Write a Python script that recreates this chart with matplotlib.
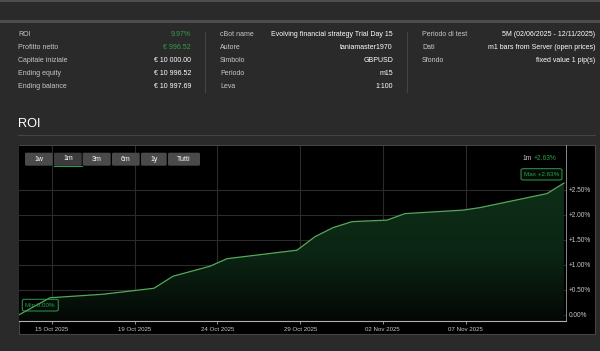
import numpy as np
import matplotlib
matplotlib.use("Agg")
from matplotlib import pyplot as plt
from matplotlib.patches import Rectangle, FancyBboxPatch
from matplotlib.colors import LinearSegmentedColormap

# ROI curve (x = ordinal session position, y = ROI in %)
session = [0.0, 1.5, 4.06, 5.51, 6.53, 7.45, 9.24, 10.06, 13.45, 14.32,
           15.19, 16.11, 17.80, 18.67, 21.48, 22.30, 25.54, 26.36]
roi = [0.00, 0.34, 0.41, 0.48, 0.53, 0.77, 0.97, 1.12, 1.29, 1.56,
       1.74, 1.86, 1.89, 2.02, 2.09, 2.14, 2.42, 2.63]

tick_pos = [1.6, 5.6, 9.6, 13.6, 17.6, 21.6]
tick_labels = ["15 Oct 2025", "19 Oct 2025", "24 Oct 2025",
               "29 Oct 2025", "02 Nov 2025", "07 Nov 2025"]
y_ticks = [0.0, 0.5, 1.0, 1.5, 2.0, 2.5]

# summary table
col1_labels = ["ROI", "Profitto netto", "Capitale iniziale", "Ending equity", "Ending balance"]
col1_values = ["9.97%", "€ 996.52", "€ 10 000.00", "€ 10 996.52", "€ 10 997.69"]
col2_labels = ["cBot name", "Autore", "Simbolo", "Periodo", "Leva"]
col2_values = ["Evolving financial strategy Trial Day 15", "taniamaster1970", "GBPUSD", "m15", "1:100"]
col3_labels = ["Periodo di test", "Dati", "Sfondo"]
col3_values = ["5M (02/06/2025 - 12/11/2025)", "m1 bars from Server (open prices)", "fixed value 1 pip(s)"]

buttons = ["1w", "1m", "3m", "6m", "1y", "Tutti"]

plt.rcParams['font.family'] = ['Liberation Sans', 'DejaVu Sans']

W, H = 600, 351
BG = "#2a2a2a"
LBL = "#c8c8c8"
GREEN = "#2f9e4e"
LINE = "#55a85a"


def fx(px):
    return px / W


def fy(py):
    return 1 - py / H


fig = plt.figure(figsize=(6, 3.51), dpi=100, facecolor=BG)

# top bands
fig.add_artist(Rectangle((0, fy(2)), 1, 2 / H, transform=fig.transFigure,
                         facecolor="#4d4d4d", edgecolor="none"))
fig.add_artist(Rectangle((0, fy(23)), 1, 3 / H, transform=fig.transFigure,
                         facecolor="#4d4d4d", edgecolor="none"))

# summary table
row_y = [34.3, 47.3, 60.3, 73.3, 86.3]
cols = [(18, 191, col1_labels, col1_values),
        (220, 393, col2_labels, col2_values),
        (422, 595, col3_labels, col3_values)]
for lx, rx, labels, values in cols:
    for i, (lab, val) in enumerate(zip(labels, values)):
        fig.text(fx(lx), fy(row_y[i]), lab, color=LBL, fontsize=5, va="center", ha="left")
        c = GREEN if (lx == 18 and i < 2) else "white"
        fig.text(fx(rx), fy(row_y[i]), val, color=c, fontsize=5, va="center", ha="right")
for sx in [205, 407]:
    fig.add_artist(plt.Line2D([fx(sx), fx(sx)], [fy(32), fy(92)], transform=fig.transFigure,
                              color="#444444", lw=0.8))

# ROI heading
fig.text(fx(18), fy(124), "ROI", color="white", fontsize=9.2, va="center", ha="left")
fig.add_artist(plt.Line2D([fx(18), fx(595)], [fy(135), fy(135)], transform=fig.transFigure,
                          color="#444444", lw=0.8))

# chart panel (behind the axes)
fig.add_artist(Rectangle((fx(19), fy(334)), (595 - 19) / W, (334 - 145.5) / H,
                         transform=fig.transFigure, facecolor="black",
                         edgecolor="#444444", lw=0.8, zorder=-5))

ax = fig.add_axes([fx(19), fy(321), (566 - 19) / W, (321 - 145.5) / H])
ax.set_zorder(2)
ax.set_facecolor("black")

for t in tick_pos:
    ax.axvline(t, color="#2b2b2b", lw=0.8, zorder=0)
for t in y_ticks:
    ax.axhline(t, color="#2b2b2b" if t > 0 else "#2a2a3c", lw=0.8, zorder=0)

# gradient fill under the curve
poly = ax.fill_between(session, roi, -0.124, facecolor="none", edgecolor="none")
cmap = LinearSegmentedColormap.from_list("g", ["#040805", "#0b2614", "#0e2e18"])
grad = np.linspace(0, 1, 256).reshape(-1, 1)
img = ax.imshow(grad, cmap=cmap, aspect="auto", origin="lower",
                extent=[0, 26.46, -0.124, max(roi)], zorder=1)
img.set_clip_path(poly.get_paths()[0], transform=ax.transData)
ax.plot(session, roi, color=LINE, lw=0.9, zorder=3)
ax.set_xlim(0, 26.46)
ax.set_ylim(-0.124, 3.38)

ax.set_xticks(tick_pos)
ax.set_xticklabels(tick_labels)
ax.set_yticks(y_ticks)
ax.set_yticklabels(["0.00%" if v == 0 else "+%.2f%%" % v for v in y_ticks])
ax.yaxis.tick_right()
ax.tick_params(axis="y", length=0, pad=2.2, labelsize=4.7, labelcolor=LBL)
ax.tick_params(axis="x", length=2.5, width=0.6, color="#aaaaaa", pad=1.5,
               labelsize=4.4, labelcolor=LBL)
for s in ["top", "left"]:
    ax.spines[s].set_visible(False)
ax.spines["bottom"].set_color("#b0b0b0")
ax.spines["bottom"].set_linewidth(0.8)
ax.spines["right"].set_color("#a0a0a0")
ax.spines["right"].set_linewidth(0.6)

# range buttons
btn_x = [(25, 52.7), (54, 81.7), (82.7, 110.7), (112, 139.7), (141, 166.7), (168, 200)]
for name, (x0, x1) in zip(buttons, btn_x):
    fc = "#3c3c3c" if name == "1m" else "#4a4a4a"
    fig.add_artist(FancyBboxPatch((fx(x0), fy(165.7)), (x1 - x0) / W, 13 / H,
                                  boxstyle="round,pad=0,rounding_size=0.003",
                                  transform=fig.transFigure, facecolor=fc,
                                  edgecolor="none", zorder=5))
    ty = 158 if name == "1m" else 159.5
    fig.text(fx((x0 + x1) / 2), fy(ty), name, color="white", fontsize=5,
             ha="center", va="center", zorder=6)
    if name == "1m":
        fig.add_artist(plt.Line2D([fx(x0), fx(x1)], [fy(166), fy(166)],
                                  transform=fig.transFigure, color=GREEN, lw=0.8, zorder=6))

# top-right summary
fig.text(fx(523), fy(158.3), "1m", color=LBL, fontsize=4.8, ha="left", va="center", zorder=6)
fig.text(fx(534), fy(158.3), "+%.2f%%" % roi[-1], color=GREEN, fontsize=4.8,
         ha="left", va="center", zorder=6)

# max / min labels
fig.add_artist(FancyBboxPatch((fx(521), fy(180)), 41 / W, 11.3 / H,
                              boxstyle="round,pad=0,rounding_size=0.004",
                              transform=fig.transFigure, facecolor="#050d07",
                              edgecolor=GREEN, lw=0.7, zorder=5))
fig.text(fx(541.5), fy(174.3), "Max +%.2f%%" % max(roi), color=GREEN, fontsize=4.5,
         ha="center", va="center", zorder=6)
fig.add_artist(FancyBboxPatch((fx(22.3), fy(311)), 36 / W, 11.7 / H,
                              boxstyle="round,pad=0,rounding_size=0.004",
                              transform=fig.transFigure, facecolor="none",
                              edgecolor=GREEN, lw=0.7, zorder=5))
fig.text(fx(40.3), fy(305.2), "Min %.2f%%" % min(roi), color=GREEN, fontsize=4.5,
         ha="center", va="center", zorder=6)

fig.savefig("out.png", dpi=100, facecolor=BG)
